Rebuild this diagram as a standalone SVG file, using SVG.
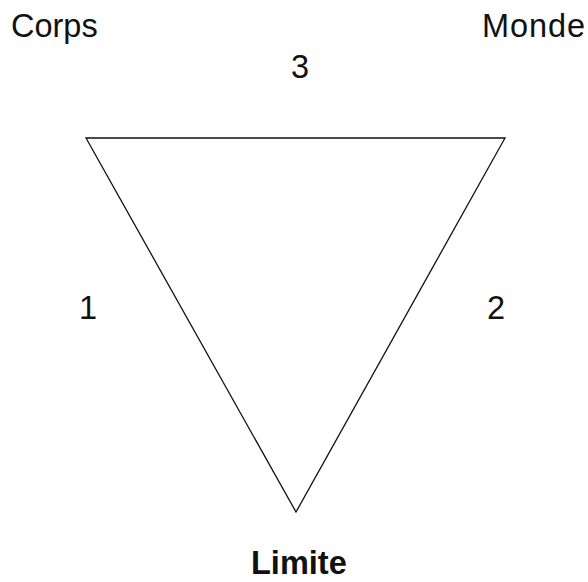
<svg xmlns="http://www.w3.org/2000/svg" width="588" height="582" viewBox="0 0 588 582">
<style>
text{font-family:"Liberation Sans",Arial,sans-serif;font-size:32.5px;fill:#111}
.b{font-weight:bold}
.edge{fill:none;stroke:#111;stroke-width:1.3}
</style>
<rect width="588" height="582" fill="#fff"/>
<g id="connectors">
<polygon class="edge" points="86,138 505,138 296,512"/>
</g>
<g id="corps"><text x="11" y="37">Corps</text></g>
<g id="monde"><text x="482" y="37" textLength="103">Monde</text></g>
<g id="limite"><text class="b" x="251" y="574">Limite</text></g>
<g id="l3"><text x="291" y="78">3</text></g>
<g id="l1"><text x="79" y="319">1</text></g>
<g id="l2"><text x="487" y="319">2</text></g>
</svg>
